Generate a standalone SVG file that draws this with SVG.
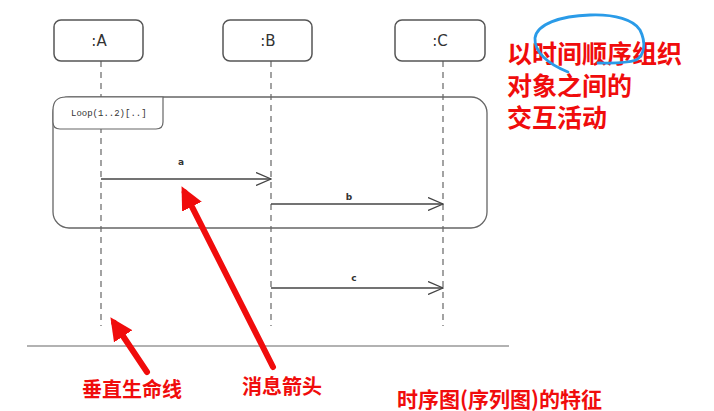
<svg xmlns="http://www.w3.org/2000/svg" width="714" height="411" viewBox="0 0 714 411">
<style>
.box{fill:#fff;stroke:#555;stroke-width:1.5}
.lbl{font-family:"DejaVu Sans",sans-serif;font-size:15px;fill:#333;text-anchor:middle}
.life{stroke:#666;stroke-width:1.2;stroke-dasharray:6 5;fill:none}
.msg{stroke:#444;stroke-width:1.5;fill:none}
.mlbl{font-family:"DejaVu Sans",sans-serif;font-size:9px;fill:#333;text-anchor:middle;font-weight:bold}
.red{font-family:"Noto Sans CJK SC",sans-serif;font-weight:bold;fill:#f00c0c}
.rarrow{stroke:#f00c0c;stroke-width:6;stroke-linecap:round;fill:none}
</style>
<defs>
<marker id="open" markerUnits="userSpaceOnUse" markerWidth="16" markerHeight="14" refX="15" refY="7" orient="auto">
<path d="M0,0.5 L15,7 L0,13.5" fill="none" stroke="#444" stroke-width="1.3"/>
</marker>
<marker id="redhead" markerUnits="userSpaceOnUse" markerWidth="24" markerHeight="22" refX="16" refY="11" orient="auto">
<path d="M0,0 L23,11 L0,22 z" fill="#f00c0c"/>
</marker>
</defs>
<rect width="714" height="411" fill="#fff"/>
<g id="lifelines">
<line class="life" x1="101" y1="61" x2="101" y2="326"/>
<line class="life" x1="271" y1="61" x2="271" y2="326"/>
<line class="life" x1="443" y1="61" x2="443" y2="326"/>
</g>
<g id="nodeA"><rect class="box" x="54" y="20" width="89" height="41" rx="7"/><text class="lbl" x="99" y="46">:A</text></g>
<g id="nodeB"><rect class="box" x="223" y="20" width="89" height="41" rx="7"/><text class="lbl" x="268" y="46">:B</text></g>
<g id="nodeC"><rect class="box" x="395" y="20" width="90" height="41" rx="7"/><text class="lbl" x="440" y="46">:C</text></g>
<g id="loop">
<rect x="53" y="97" width="434" height="131" rx="16" fill="none" stroke="#666" stroke-width="1.3"/>
<path d="M53,122 L53,110 Q53,97 66,97 L163,97 L163,122 Q163,129 156,129 L60,129 Q53,129 53,122 z" fill="#fff" stroke="#666" stroke-width="1.2"/>
<text x="71" y="116" font-family="Liberation Mono,monospace" font-size="9" fill="#333">Loop(1..2)[..]</text>
</g>
<g id="connectors">
<line class="msg" x1="101" y1="179" x2="271" y2="179" marker-end="url(#open)"/>
<text class="mlbl" x="181" y="165">a</text>
<line class="msg" x1="271" y1="204" x2="443" y2="204" marker-end="url(#open)"/>
<text class="mlbl" x="349" y="200">b</text>
<line class="msg" x1="271" y1="288" x2="443" y2="288" marker-end="url(#open)"/>
<text class="mlbl" x="354" y="281">c</text>
</g>
<line x1="27" y1="346" x2="509" y2="346" stroke="#999" stroke-width="1.3"/>
<g id="annotations">
<line class="rarrow" x1="273" y1="367" x2="184.7" y2="192.4" marker-end="url(#redhead)"/>
<line class="rarrow" x1="147" y1="372" x2="114.3" y2="323" marker-end="url(#redhead)"/>
<text class="red" x="82" y="397" font-size="20">垂直生命线</text>
<text class="red" x="242" y="394" font-size="20">消息箭头</text>
<text class="red" x="397" y="407" font-size="21">时序图(序列图)的特征</text>
<text class="red" x="507" y="63" font-size="25">以时间顺序组织</text>
<text class="red" x="507" y="95" font-size="25">对象之间的</text>
<text class="red" x="507" y="127" font-size="25">交互活动</text>
<path d="M568,72 C548,64 534,52 535,38 C537,24 560,16 590,15 C615,14 634,20 640,30 C646,42 645,55 636,60 C625,64 610,63 598,63" fill="none" stroke="#2a9be8" stroke-width="2.8" stroke-linecap="round"/>
</g>
</svg>
